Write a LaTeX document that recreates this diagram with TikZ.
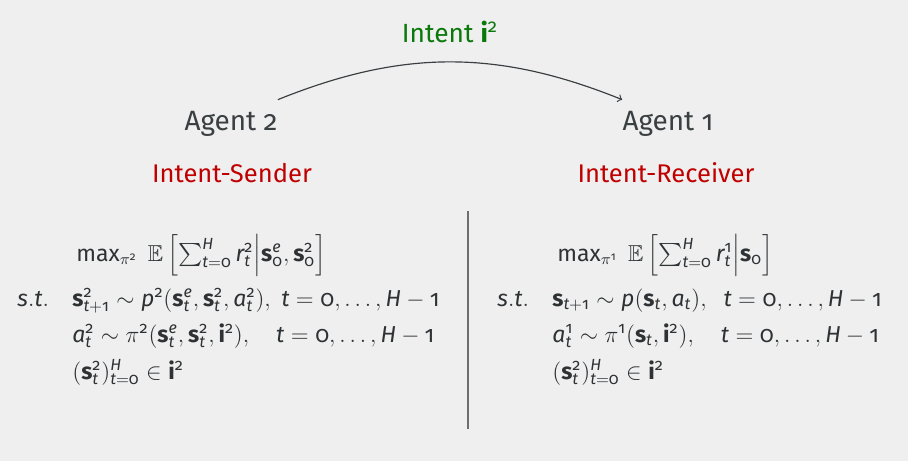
\documentclass[tikz,border=0pt]{standalone}
\usepackage{amsmath,amssymb}
\usepackage{fontspec}
\setmainfont{Fira Sans}[Numbers=OldStyle]
\newfontfamily\firamath{Fira Sans}[NFSSFamily=firam, Numbers=OldStyle]
\DeclareSymbolFont{firalet}{TU}{firam}{m}{it}
\DeclareSymbolFont{firanum}{TU}{firam}{m}{n}
\SetMathAlphabet{\mathbf}{normal}{TU}{firam}{b}{n}
\newcommand\sfletter[1]{\DeclareMathSymbol{#1}{\mathalpha}{firalet}{`#1}}
\sfletter{a}\sfletter{e}\sfletter{p}\sfletter{r}\sfletter{s}\sfletter{t}\sfletter{H}
\makeatletter
\newcommand\sfdigit[1]{\mathcode`#1=\numexpr"7000+\symfiranum*256+`#1\relax}
\newcommand\firamathsetup{\sfdigit0\sfdigit1\sfdigit2\def\operator@font{\mathgroup\symfiranum}}
\makeatother

\definecolor{bgcol}{HTML}{EFEFEF}
\definecolor{textcol}{HTML}{3A3F42}
\definecolor{rolecol}{HTML}{C00000}
\definecolor{intentcol}{HTML}{0A780A}
\definecolor{sepcol}{HTML}{6E6E6E}

\tikzset{
  agent/.style={text=textcol, inner xsep=0pt, inner ysep=5.5pt, font=\fontsize{14.3}{17}\selectfont},
  role/.style={text=rolecol, inner sep=0pt, font=\fontsize{13.1}{16}\selectfont},
  eq/.style={text=textcol!80!black, inner sep=0pt, anchor=base west, font=\fontsize{11.8}{14}\selectfont\firamathsetup},
}

\begin{document}
\begin{tikzpicture}[x=0.018cm, y=-0.018cm]
        % sfondo
        \fill[bgcol] (0,0) rectangle (908,461);
        \useasboundingbox (0,0) rectangle (908,461);

        % agenti e ruoli
        \node[agent, anchor=base] (agentsender) at (231,130) {Agent 2};
        \node[agent, anchor=base] (agentreceiver) at (668,130) {Agent 1};
        \node[role, anchor=base] (rolesender) at (232,182) {Intent-Sender};
        \node[role, anchor=base] (rolereceiver) at (666,182) {Intent-Receiver};

        % intento
        \draw[->, semithick, textcol] (agentsender.north east) to[bend left=22]
            node[midway, above=6pt, text=intentcol, font=\fontsize{13.5}{16}\selectfont\firamathsetup] (intent) {Intent $\mathbf{i}^2$}
            (agentreceiver.north west);

        % separatore
        \draw[sepcol, line width=0.7pt] (468,211) -- (468,429);

        % problema del sender
        \node[eq] (objsender) at (76,261) {$\max_{\pi^2}\;\mathbb{E}\left[\sum_{t=0}^H r_t^2 \middle| \mathbf{s}_0^e, \mathbf{s}_0^2\right]$};
        \node[eq] (stsender) at (17,306) {$s.t.$};
        \node[eq] (dynsender) at (72,306) {$\mathbf{s}_{t+1}^2 \sim p^2(\mathbf{s}_t^e, \mathbf{s}_t^2, a_t^2),\; t = 0, \dots, H-1$};
        \node[eq] (polsender) at (72,342) {$a_t^2 \sim \pi^2(\mathbf{s}_t^e, \mathbf{s}_t^2, \mathbf{i}^2), \quad t = 0, \dots, H-1$};
        \node[eq] (intsender) at (72,379) {$(\mathbf{s}_t^2)_{t=0}^H \in \mathbf{i}^2$};

        % problema del receiver
        \node[eq] (objreceiver) at (557,261) {$\max_{\pi^1}\;\mathbb{E}\left[\sum_{t=0}^H r_t^1 \middle| \mathbf{s}_0\right]$};
        \node[eq] (streceiver) at (497,306) {$s.t.$};
        \node[eq] (dynreceiver) at (552,306) {$\mathbf{s}_{t+1} \sim p(\mathbf{s}_t, a_t), \;\; t = 0, \dots, H-1$};
        \node[eq] (polreceiver) at (552,342) {$a_t^1 \sim \pi^1(\mathbf{s}_t, \mathbf{i}^2), \quad t = 0, \dots, H-1$};
        \node[eq] (intreceiver) at (552,379) {$(\mathbf{s}_t^2)_{t=0}^H \in \mathbf{i}^2$};
\end{tikzpicture}
\end{document}
